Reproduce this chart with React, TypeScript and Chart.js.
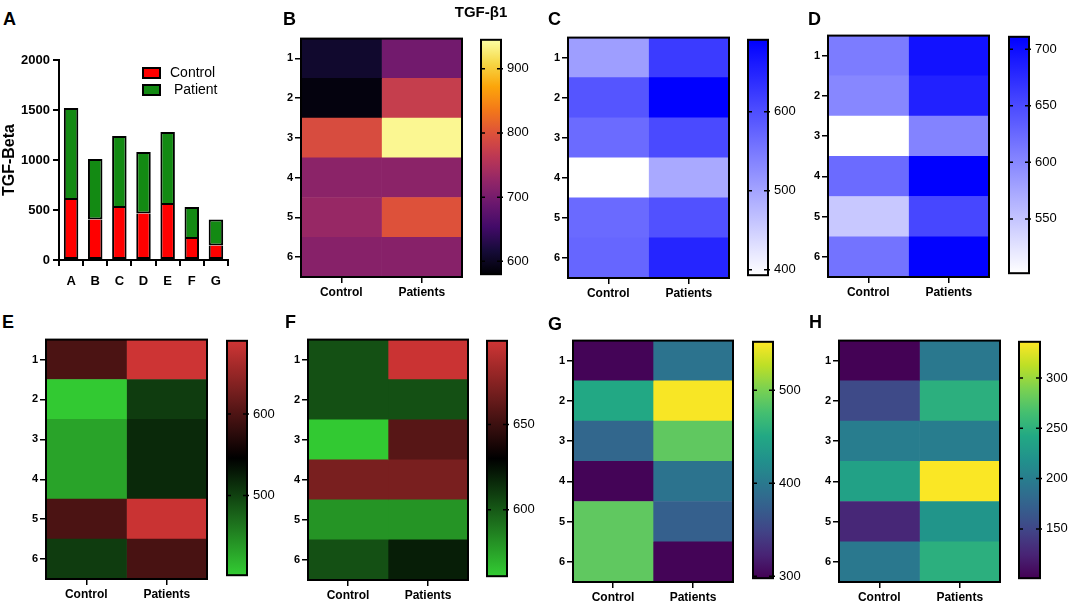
import React, { useEffect, useRef } from 'react';
import { Chart, registerables } from 'chart.js';

Chart.register(...registerables);

const FONT = "'Liberation Sans', Arial, Helvetica, sans-serif";
Chart.defaults.font.family = FONT;
Chart.defaults.color = '#000';

// ---------- Panel A : stacked bars ----------
const barCategories = ['A', 'B', 'C', 'D', 'E', 'F', 'G'];
const controlValues = [600, 405, 520, 465, 550, 210, 145];
const patientValues = [920, 605, 720, 615, 730, 320, 260];
const barAxisTicks = [0, 500, 1000, 1500, 2000];

// ---------- Heatmaps (rows x columns) ----------
const heatRows = ['1', '2', '3', '4', '5', '6'];
const heatColumns = ['Control', 'Patients'];

// B (TGF-β1)
const bControl = [609, 587, 792, 719, 730, 715];
const bPatients = [697, 773, 938, 719, 799, 715];
const bScale = [580, 945];
const bTicks = [600, 700, 800, 900];

// C
const cControl = [506, 592, 566, 393, 567, 572];
const cPatients = [622, 691, 605, 494, 596, 648];
const cScale = [393, 691];
const cTicks = [400, 500, 600];

// D
const dControl = [609, 600, 502, 623, 547, 617];
const dPatients = [696, 684, 604, 711, 653, 709];
const dScale = [502, 711];
const dTicks = [550, 600, 650, 700];

// E
const eControl = [598, 404, 431, 431, 598, 504];
const ePatients = [688, 504, 517, 517, 685, 596];
const eScale = [402, 690];
const eTicks = [500, 600];

// F
const fControl = [603, 603, 562, 670, 580, 603];
const fPatients = [697, 603, 659, 670, 580, 620];
const fScale = [561, 699];
const fTicks = [600, 650];

// G
const gControl = [300, 450, 382, 300, 489, 489];
const gPatients = [395, 550, 489, 395, 375, 300];
const gScale = [298, 552];
const gTicks = [300, 400, 500];

// H
const hControl = [102, 153, 200, 235, 127, 195];
const hPatients = [195, 249, 200, 335, 223, 249];
const hScale = [101, 336];
const hTicks = [150, 200, 250, 300];

// ---------- colour maps ----------
const INFERNO = ['#000004', '#160b39', '#420a68', '#6a176e', '#932667', '#bc3754', '#dd513a', '#f37819', '#fca50a', '#f6d746', '#fcffa4'];
const VIRIDIS = ['#440154', '#482475', '#414487', '#355f8d', '#2a788e', '#21918c', '#22a884', '#44bf70', '#7ad151', '#bddf26', '#fde725'];
const BLUES = ['#ffffff', '#0000ff'];
const GREEN_RED = ['#33cc33', '#000000', '#d03535'];

function hexToRgb(h: string) {
  const n = parseInt(h.slice(1), 16);
  return [(n >> 16) & 255, (n >> 8) & 255, n & 255];
}
function sample(map: string[], t: number) {
  const tt = Math.min(1, Math.max(0, t));
  const p = tt * (map.length - 1);
  const i = Math.min(map.length - 2, Math.floor(p));
  const f = p - i;
  const a = hexToRgb(map[i]);
  const b = hexToRgb(map[i + 1]);
  return `rgb(${a.map((v, k) => Math.round(v + (b[k] - v) * f)).join(',')})`;
}

const framePlugin = {
  id: 'frame',
  afterDatasetsDraw(chart: any) {
    const { ctx, chartArea: a } = chart;
    ctx.save();
    ctx.strokeStyle = '#000';
    ctx.lineWidth = 2;
    ctx.strokeRect(a.left, a.top, a.right - a.left, a.bottom - a.top);
    ctx.restore();
  },
};

const innerTicksPlugin = {
  id: 'innerTicks',
  afterDatasetsDraw(chart: any) {
    const { ctx, chartArea: a } = chart;
    const ys = chart.scales.y;
    ctx.save();
    ctx.strokeStyle = '#000';
    ctx.lineWidth = 1.5;
    ys.ticks.forEach((t: any) => {
      const y = ys.getPixelForValue(t.value);
      ctx.beginPath();
      ctx.moveTo(a.left, y);
      ctx.lineTo(a.left + 4, y);
      ctx.moveTo(a.right - 4, y);
      ctx.lineTo(a.right + 2, y);
      ctx.stroke();
    });
    ctx.restore();
  },
};

const legendPlugin = {
  id: 'boxLegend',
  afterDraw(chart: any) {
    const { ctx, chartArea: a } = chart;
    ctx.save();
    chart.data.datasets.forEach((ds: any, i: number) => {
      const x = a.left + 84;
      const y = a.top + 8 + i * 17;
      ctx.fillStyle = ds.backgroundColor;
      ctx.fillRect(x, y, 17, 10);
      ctx.strokeStyle = '#000';
      ctx.lineWidth = 2;
      ctx.strokeRect(x, y, 17, 10);
      ctx.fillStyle = '#000';
      ctx.font = `14px ${FONT}`;
      ctx.textBaseline = 'middle';
      ctx.fillText(ds.label, x + 27, y + 5.5);
    });
    ctx.restore();
  },
};

type Box = { left: number; top: number; width: number; height: number };

function ChartCanvas({ box, make }: { box: Box; make: () => any }) {
  const ref = useRef<HTMLCanvasElement>(null);
  useEffect(() => {
    const chart = new Chart(ref.current as HTMLCanvasElement, make());
    return () => chart.destroy();
  }, []);
  return (
    <canvas
      ref={ref}
      width={box.width}
      height={box.height}
      style={{ position: 'absolute', left: box.left, top: box.top, width: box.width, height: box.height }}
    />
  );
}

function barConfig() {
  return {
    type: 'bar',
    data: {
      labels: barCategories,
      datasets: [
        {
          label: 'Control',
          data: controlValues,
          backgroundColor: '#ff0000',
          borderColor: '#000',
          borderWidth: 2,
          borderSkipped: 'top',
          barPercentage: 0.6,
          categoryPercentage: 1,
        },
        {
          label: ' Patient',
          data: patientValues,
          backgroundColor: '#138a13',
          borderColor: '#000',
          borderWidth: 2,
          borderSkipped: false,
          barPercentage: 0.6,
          categoryPercentage: 1,
        },
      ],
    },
    options: {
      responsive: false,
      animation: false,
      events: [],
      layout: { padding: { top: 20, right: 12, left: 0, bottom: 0 } },
      plugins: { legend: { display: false }, tooltip: { enabled: false } },
      scales: {
        x: {
          stacked: true,
          grid: { drawOnChartArea: false, color: '#000', lineWidth: 2, tickLength: 6 },
          border: { color: '#000', width: 2 },
          ticks: { font: { size: 13, weight: 'bold' }, color: '#000', padding: 8 },
          afterFit: (s: any) => { s.height = 35; },
        },
        y: {
          stacked: true,
          min: 0,
          max: 2000,
          afterBuildTicks: (s: any) => { s.ticks = barAxisTicks.map((v) => ({ value: v })); },
          grid: { drawOnChartArea: false, color: '#000', lineWidth: 2, tickLength: 6 },
          border: { color: '#000', width: 2 },
          ticks: { font: { size: 13, weight: 'bold' }, color: '#000', padding: 3, callback: (v: any) => String(v) },
          title: { display: true, text: 'TGF-Beta', font: { size: 16, weight: 'bold' }, color: '#000', padding: { top: 0, bottom: 0 } },
          afterFit: (s: any) => { s.width = 59; },
        },
      },
    },
    plugins: [legendPlugin],
  };
}

type Rect = { x: number; y: number; w: number; h: number };

function HeatmapPanel(props: {
  control: number[];
  patients: number[];
  scale: number[];
  ticks: number[];
  cmap: string[];
  heat: Rect;
  bar: Rect;
  axisW: number;
}) {
  const { control, patients, scale, ticks, cmap, heat, bar, axisW } = props;
  const [lo, hi] = scale;
  const values = [control, patients];
  const YW = 30, XH = 26, PT = 6, PR = 4;
  const heatBox: Box = { left: heat.x - YW, top: heat.y - PT, width: YW + heat.w + PR, height: PT + heat.h + XH };
  const cbBox: Box = { left: bar.x - 4, top: bar.y - 10, width: 4 + bar.w + axisW, height: 10 + bar.h + 10 };

  const heatConfig = () => ({
    type: 'bar',
    data: {
      labels: heatRows,
      datasets: heatColumns.map((col, ci) => ({
        label: col,
        data: heatRows.map(() => [ci, ci + 1]),
        backgroundColor: values[ci].map((v) => sample(cmap, (v - lo) / (hi - lo))),
        borderWidth: 0,
        barPercentage: 1,
        categoryPercentage: 1,
        grouped: false,
      })),
    },
    options: {
      indexAxis: 'y',
      responsive: false,
      animation: false,
      events: [],
      layout: { padding: { top: PT, right: PR, left: 0, bottom: 0 } },
      plugins: { legend: { display: false }, tooltip: { enabled: false } },
      scales: {
        x: {
          type: 'linear',
          min: 0,
          max: heatColumns.length,
          afterBuildTicks: (s: any) => { s.ticks = heatColumns.map((_, i) => ({ value: i + 0.5 })); },
          ticks: {
            callback: (_v: any, i: number) => heatColumns[i],
            font: { size: 12, weight: 'bold' },
            color: '#000',
            padding: 2,
            autoSkip: false,
            maxRotation: 0,
          },
          grid: { drawOnChartArea: false, color: '#000', lineWidth: 1.5, tickLength: 6 },
          border: { display: false },
          afterFit: (s: any) => { s.height = XH; },
        },
        y: {
          type: 'category',
          offset: true,
          grid: { offset: false, drawOnChartArea: false, color: '#000', lineWidth: 1.5, tickLength: 6 },
          border: { display: false },
          ticks: { font: { size: 11, weight: 'bold' }, color: '#000', padding: 2 },
          afterFit: (s: any) => { s.width = YW; },
        },
      },
    },
    plugins: [framePlugin],
  });

  const cbConfig = () => ({
    type: 'bar',
    data: {
      labels: [''],
      datasets: [
        {
          data: [[lo, hi]],
          backgroundColor: (c: any) => {
            const area = c.chart.chartArea;
            if (!area) return 'rgba(0,0,0,0)';
            const g = c.chart.ctx.createLinearGradient(0, area.bottom, 0, area.top);
            for (let i = 0; i <= 20; i++) g.addColorStop(i / 20, sample(cmap, i / 20));
            return g;
          },
          borderWidth: 0,
          barPercentage: 1,
          categoryPercentage: 1,
        },
      ],
    },
    options: {
      responsive: false,
      animation: false,
      events: [],
      layout: { padding: { top: 10, bottom: 10, left: 4, right: 0 } },
      plugins: { legend: { display: false }, tooltip: { enabled: false } },
      scales: {
        x: { display: false },
        y: {
          position: 'right',
          min: lo,
          max: hi,
          afterBuildTicks: (s: any) => { s.ticks = ticks.map((v) => ({ value: v })); },
          ticks: { font: { size: 13 }, color: '#000', padding: 6 },
          grid: { drawOnChartArea: false, drawTicks: false },
          border: { display: false },
          afterFit: (s: any) => { s.width = axisW; },
        },
      },
    },
    plugins: [framePlugin, innerTicksPlugin],
  });

  return (
    <>
      <ChartCanvas box={heatBox} make={heatConfig} />
      <ChartCanvas box={cbBox} make={cbConfig} />
    </>
  );
}

const letterStyle = (left: number, top: number): React.CSSProperties => ({
  position: 'absolute',
  left,
  top,
  fontFamily: FONT,
  fontWeight: 'bold',
  fontSize: 18,
  lineHeight: '18px',
  color: '#000',
});

export default function App() {
  return (
    <div
      style={{
        position: 'absolute',
        left: 0,
        top: 0,
        width: 1072,
        height: 603,
        overflow: 'hidden',
        background: '#fff',
      }}
    >
      <ChartCanvas box={{ left: 0, top: 40, width: 240, height: 255 }} make={barConfig} />

      <HeatmapPanel control={bControl} patients={bPatients} scale={bScale} ticks={bTicks} cmap={INFERNO}
        heat={{ x: 301, y: 36, w: 161, h: 241 }} bar={{ x: 481, y: 36, w: 20, h: 242 }} axisW={44} />
      <HeatmapPanel control={cControl} patients={cPatients} scale={cScale} ticks={cTicks} cmap={BLUES}
        heat={{ x: 568, y: 35, w: 161, h: 243 }} bar={{ x: 748, y: 36, w: 20, h: 243 }} axisW={44} />
      <HeatmapPanel control={dControl} patients={dPatients} scale={dScale} ticks={dTicks} cmap={BLUES}
        heat={{ x: 828, y: 33, w: 161, h: 244 }} bar={{ x: 1009, y: 33, w: 20, h: 244 }} axisW={40} />
      <HeatmapPanel control={eControl} patients={ePatients} scale={eScale} ticks={eTicks} cmap={GREEN_RED}
        heat={{ x: 46, y: 337, w: 161, h: 242 }} bar={{ x: 227, y: 337, w: 20, h: 242 }} axisW={44} />
      <HeatmapPanel control={fControl} patients={fPatients} scale={fScale} ticks={fTicks} cmap={GREEN_RED}
        heat={{ x: 308, y: 337, w: 160, h: 243 }} bar={{ x: 487, y: 337, w: 20, h: 243 }} axisW={44} />
      <HeatmapPanel control={gControl} patients={gPatients} scale={gScale} ticks={gTicks} cmap={VIRIDIS}
        heat={{ x: 573, y: 338, w: 160, h: 244 }} bar={{ x: 753, y: 338, w: 20, h: 244 }} axisW={44} />
      <HeatmapPanel control={hControl} patients={hPatients} scale={hScale} ticks={hTicks} cmap={VIRIDIS}
        heat={{ x: 839, y: 338, w: 161, h: 244 }} bar={{ x: 1019, y: 338, w: 21, h: 244 }} axisW={32} />

      <div style={letterStyle(3, 10)}>A</div>
      <div style={letterStyle(283, 10)}>B</div>
      <div style={letterStyle(548, 10)}>C</div>
      <div style={letterStyle(808, 10)}>D</div>
      <div style={letterStyle(2, 313)}>E</div>
      <div style={letterStyle(285, 313)}>F</div>
      <div style={letterStyle(548, 315)}>G</div>
      <div style={letterStyle(809, 313)}>H</div>
      <div
        style={{
          position: 'absolute',
          left: 441,
          top: 4,
          width: 80,
          textAlign: 'center',
          fontFamily: FONT,
          fontWeight: 'bold',
          fontSize: 15,
          lineHeight: '15px',
          color: '#000',
        }}
      >
        TGF-β1
      </div>
    </div>
  );
}
